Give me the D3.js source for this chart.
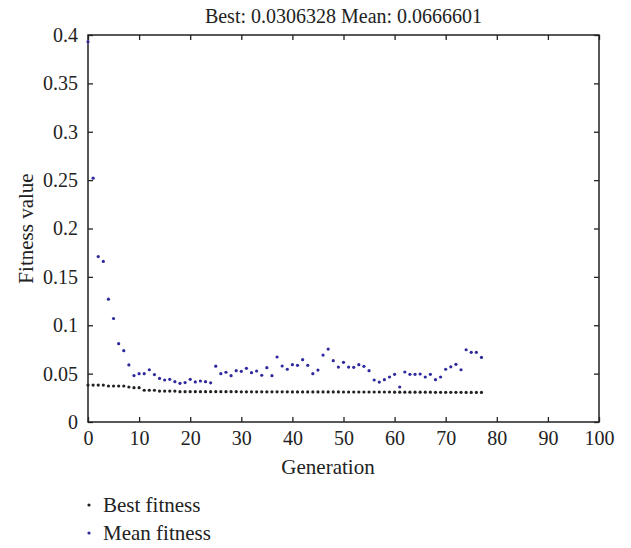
<!DOCTYPE html>
<html><head><meta charset="utf-8">
<script src="https://cdnjs.cloudflare.com/ajax/libs/d3/7.8.5/d3.min.js"></script>
<style>body{margin:0;background:#fff}svg{display:block}svg text{font-family:'Liberation Serif','DejaVu Serif','Times New Roman',Times,serif !important;fill:#222}</style>
</head><body><svg id="c" width="631" height="548"></svg>
<script>
const titleText = "Best: 0.0306328 Mean: 0.0666601";
const xLabel = "Generation";
const yLabel = "Fitness value";
const seriesNames = ["Best fitness", "Mean fitness"];
const seriesColors = ["#222222", "#2e2a9c"];
const xTicks = [0,10,20,30,40,50,60,70,80,90,100];
const yTicks = [0,0.05,0.1,0.15,0.2,0.25,0.3,0.35,0.4];
const yTickLabels = ["0","0.05","0.1","0.15","0.2","0.25","0.3","0.35","0.4"];
const bestFitness = [
0.0382,0.0382,0.0382,0.0382,0.0372,0.0372,0.0372,0.0372,0.0362,0.0355,
0.0355,0.0328,0.0328,0.0328,0.0320,0.0320,0.0320,0.0320,0.0313,0.0313,
0.0313,0.0313,0.0313,0.0313,0.0313,0.0313,0.0313,0.0313,0.0313,0.0313,
0.0312,0.0312,0.0312,0.0312,0.0312,0.0312,0.0312,0.0312,0.0312,0.0312,
0.0311,0.0311,0.0311,0.0311,0.0311,0.0311,0.0311,0.0311,0.0311,0.0311,
0.0310,0.0310,0.0310,0.0310,0.0310,0.0310,0.0310,0.0310,0.0310,0.0310,
0.0308,0.0308,0.0308,0.0308,0.0308,0.0308,0.0308,0.0308,0.0307,0.0307,
0.0307,0.0307,0.0307,0.0307,0.0306,0.0306,0.0306,0.0306];
const meanFitness = [
0.393,0.252,0.171,0.166,0.127,0.107,0.081,0.0737,0.059,0.048,
0.050,0.050,0.054,0.049,0.045,0.0434,0.0441,0.0417,0.040,0.0407,
0.0441,0.0414,0.0424,0.0417,0.0405,0.0577,0.050,0.0514,0.0479,0.053,
0.0524,0.0555,0.051,0.0527,0.0483,0.0561,0.0479,0.0672,0.0579,0.0545,
0.0592,0.0586,0.0644,0.0586,0.050,0.0537,0.0692,0.0754,0.0634,0.0568,
0.0617,0.0568,0.0565,0.0592,0.0575,0.053,0.0434,0.0413,0.0437,0.0465,
0.0493,0.0362,0.0517,0.0493,0.0493,0.0496,0.0465,0.0493,0.0437,0.0465,
0.0545,0.0570,0.0596,0.054,0.0747,0.072,0.072,0.0667];

const svg = d3.select("#c");
const L = 88, R = 599, T = 35, B = 422;
const x = d3.scaleLinear().domain([0,100]).range([L,R]);
const y = d3.scaleLinear().domain([0,0.4]).range([B,T]);
const tl = 5;
const FONT = "'Liberation Serif','DejaVu Serif',serif";

svg.append("rect").attr("x",L).attr("y",T).attr("width",R-L).attr("height",B-T)
  .attr("fill","none").attr("stroke","#222").attr("stroke-width",1.5);

const fmtY = (d,i)=>yTickLabels[i];
const gxB = svg.append("g").attr("transform",`translate(0,${B})`)
  .call(d3.axisBottom(x).tickValues(xTicks).tickSizeInner(-tl).tickSizeOuter(0).tickPadding(9));
const gxT = svg.append("g").attr("transform",`translate(0,${T})`)
  .call(d3.axisTop(x).tickValues(xTicks).tickSizeInner(-tl).tickSizeOuter(0).tickFormat(""));
const gyL = svg.append("g").attr("transform",`translate(${L},0)`)
  .call(d3.axisLeft(y).tickValues(yTicks).tickSizeInner(-tl).tickSizeOuter(0).tickPadding(10).tickFormat(fmtY));
const gyR = svg.append("g").attr("transform",`translate(${R},0)`)
  .call(d3.axisRight(y).tickValues(yTicks).tickSizeInner(-tl).tickSizeOuter(0).tickFormat(""));
[gxB,gxT,gyL,gyR].forEach(g=>{
  g.attr("font-family",FONT).attr("font-size",20);
  g.select(".domain").remove();
  g.selectAll("line").attr("stroke","#222").attr("stroke-width",1.3);
  g.selectAll("text").attr("fill","#222");
});

const series = [bestFitness, meanFitness];
series.forEach((s,k)=>{
  svg.append("g").selectAll("circle").data(s).join("circle")
    .attr("cx",(d,i)=>x(i)).attr("cy",d=>y(d)).attr("r",1.6)
    .attr("fill",seriesColors[k]);
});

svg.append("text").attr("x",(L+R)/2).attr("y",23).attr("text-anchor","middle")
  .attr("font-family",FONT).attr("font-size",20).text(titleText);
svg.append("text").attr("x",328).attr("y",474).attr("text-anchor","middle")
  .attr("font-family",FONT).attr("font-size",21).text(xLabel);
svg.append("text").attr("transform",`translate(33,${(T+B)/2}) rotate(-90)`)
  .attr("text-anchor","middle").attr("font-family",FONT).attr("font-size",21).text(yLabel);

seriesNames.forEach((n,k)=>{
  const yy = 505 + k*28;
  svg.append("circle").attr("cx",89).attr("cy",yy).attr("r",1.6).attr("fill",seriesColors[k]);
  svg.append("text").attr("x",103).attr("y",yy+7).attr("font-family",FONT).attr("font-size",21).text(n);
});
</script></body></html>
